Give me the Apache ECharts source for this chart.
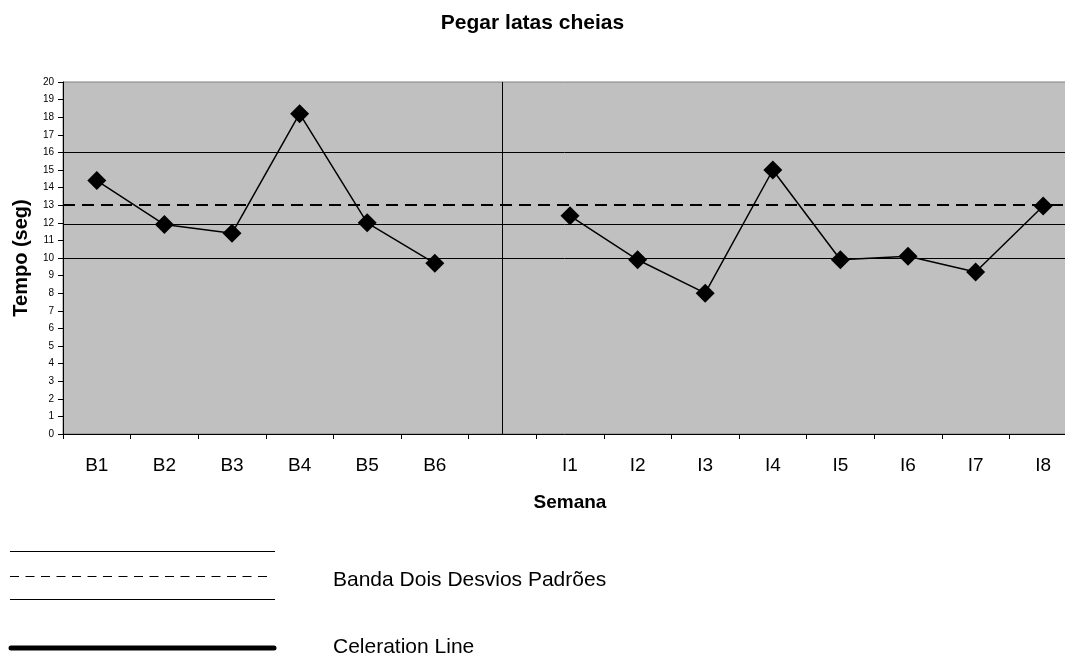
<!DOCTYPE html>
<html>
<head>
<meta charset="utf-8">
<script src="https://cdn.jsdelivr.net/npm/echarts@6/dist/echarts.min.js"></script>
<style>
  html, body { margin: 0; padding: 0; background: #ffffff; }
  #chart { width: 1065px; height: 655px; }
</style>
</head>
<body>
<div id="chart"></div>
<script>
// Week labels: baseline weeks, an empty phase-change slot, intervention weeks
const baselineWeeks = ['B1', 'B2', 'B3', 'B4', 'B5', 'B6'];
const gapSlot = [''];
const interventionWeeks = ['I1', 'I2', 'I3', 'I4', 'I5', 'I6', 'I7', 'I8'];

// Time (seconds) per week
const baselineTimes = [14.4, 11.9, 11.4, 18.2, 12.0, 9.7];
const interventionTimes = [12.4, 9.9, 8.0, 15.0, 9.9, 10.1, 9.2, 12.95];

// Two-standard-deviation band: dashed centre line and solid limits
const bandMean = 13.05;
const bandLimits = [16, 11.9, 10];

// Y tick values 0..20
const yTicks = { min: 0, max: 20, step: 1 };

const categories = baselineWeeks.concat(gapSlot, interventionWeeks);
const gapIndex = baselineWeeks.length;

const baselineData = baselineTimes.concat(
  new Array(gapSlot.length + interventionWeeks.length).fill(null));
const interventionData = new Array(baselineWeeks.length + gapSlot.length)
  .fill(null).concat(interventionTimes);

const FONT = '"Liberation Sans", Arial, sans-serif';

const chart = echarts.init(document.getElementById('chart'), null, { renderer: 'canvas' });

const diamond = {
  type: 'line',
  symbol: 'diamond',
  symbolSize: 19,
  connectNulls: false,
  lineStyle: { color: '#000', width: 1.5 },
  itemStyle: { color: '#000', borderColor: '#000', borderWidth: 0 },
  emphasis: { disabled: true },
  z: 5
};

chart.setOption({
  animation: false,
  backgroundColor: '#ffffff',
  title: {
    text: 'Pegar latas cheias',
    left: 'center',
    top: 8,
    textStyle: { fontFamily: FONT, fontSize: 21, fontWeight: 'bold', color: '#000' }
  },
  grid: {
    left: 63,
    top: 82,
    right: -12,
    bottom: 221,
    outerBoundsMode: 'none',
    show: true,
    backgroundColor: '#c0c0c0',
    borderColor: '#808080',
    borderWidth: 1
  },
  xAxis: {
    type: 'category',
    data: categories,
    boundaryGap: true,
    name: 'Semana',
    nameLocation: 'middle',
    nameGap: 59,
    nameTextStyle: { fontFamily: FONT, fontSize: 19, fontWeight: 'bold', color: '#000' },
    axisLine: { lineStyle: { color: '#000', width: 1 } },
    axisTick: { show: true, length: 5, lineStyle: { color: '#000' } },
    axisLabel: { fontFamily: FONT, fontSize: 19, color: '#000', margin: 22 },
    splitLine: { show: false }
  },
  yAxis: {
    type: 'value',
    min: yTicks.min,
    max: yTicks.max,
    interval: yTicks.step,
    name: 'Tempo (seg)',
    nameLocation: 'middle',
    nameGap: 30,
    nameRotate: 90,
    nameTextStyle: { fontFamily: FONT, fontSize: 20, fontWeight: 'bold', color: '#000' },
    axisLine: { show: true, lineStyle: { color: '#000', width: 1 } },
    axisTick: { show: true, length: 5, lineStyle: { color: '#000' } },
    axisLabel: { fontFamily: FONT, fontSize: 10, color: '#000', margin: 9 },
    splitLine: { show: false }
  },
  series: [
    Object.assign({}, diamond, {
      name: 'Baseline',
      data: baselineData,
      markLine: {
        silent: true,
        symbol: 'none',
        label: { show: false },
        animation: false,
        data: [
          { yAxis: bandMean, lineStyle: { color: '#000', width: 2, type: [12, 7] } }
        ].concat(bandLimits.map(v => ({ yAxis: v, lineStyle: { color: '#000', width: 1, type: 'solid' } })))
          .concat([{ xAxis: gapIndex, lineStyle: { color: '#000', width: 1, type: 'solid' } }])
      }
    }),
    Object.assign({}, diamond, {
      name: 'Intervenção',
      data: interventionData
    })
  ],
  graphic: [
    // Key: band lines
    { type: 'line', shape: { x1: 10, y1: 551.5, x2: 275, y2: 551.5 }, style: { stroke: '#000', lineWidth: 1 } },
    { type: 'line', shape: { x1: 10, y1: 576.5, x2: 270, y2: 576.5 }, style: { stroke: '#000', lineWidth: 1, lineDash: [9, 6.5] } },
    { type: 'line', shape: { x1: 10, y1: 599.5, x2: 275, y2: 599.5 }, style: { stroke: '#000', lineWidth: 1 } },
    { type: 'text', x: 333, y: 580, style: { text: 'Banda Dois Desvios Padrões', font: '21px ' + FONT, fill: '#000', textVerticalAlign: 'middle' } },
    // Key: celeration line
    { type: 'line', shape: { x1: 11, y1: 648, x2: 274, y2: 648 }, style: { stroke: '#000', lineWidth: 5, lineCap: 'round' } },
    { type: 'text', x: 333, y: 647, style: { text: 'Celeration Line', font: '21px ' + FONT, fill: '#000', textVerticalAlign: 'middle' } }
  ]
});
</script>
</body>
</html>
